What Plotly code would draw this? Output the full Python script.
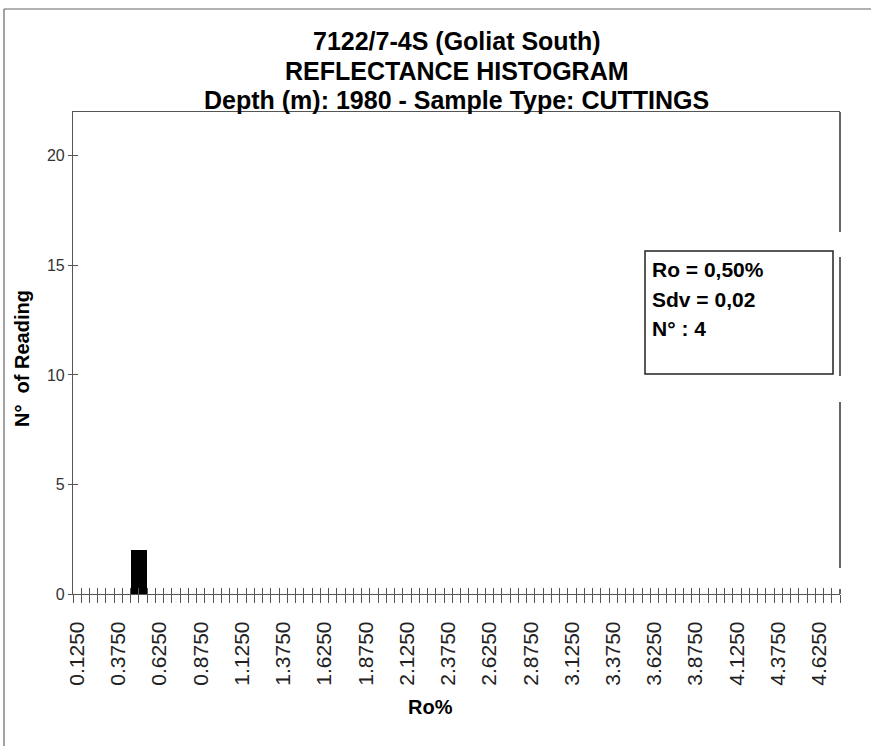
import plotly.graph_objects as go

# ---- data ----
bin_start = 0.125
bin_step = 0.05
n_bins = 93
ro_bins = [round(bin_start + bin_step * i, 4) for i in range(n_bins)]
counts = [
    0, 0, 0, 0, 0, 0, 0, 2, 2, 0,
    0, 0, 0, 0, 0, 0, 0, 0, 0, 0,
    0, 0, 0, 0, 0, 0, 0, 0, 0, 0,
    0, 0, 0, 0, 0, 0, 0, 0, 0, 0,
    0, 0, 0, 0, 0, 0, 0, 0, 0, 0,
    0, 0, 0, 0, 0, 0, 0, 0, 0, 0,
    0, 0, 0, 0, 0, 0, 0, 0, 0, 0,
    0, 0, 0, 0, 0, 0, 0, 0, 0, 0,
    0, 0, 0, 0, 0, 0, 0, 0, 0, 0,
    0, 0, 0,
]
tick_labels = ["0.1250", "0.3750", "0.6250", "0.8750", "1.1250", "1.3750",
               "1.6250", "1.8750", "2.1250", "2.3750", "2.6250", "2.8750",
               "3.1250", "3.3750", "3.6250", "3.8750", "4.1250", "4.3750",
               "4.6250"]
tick_values = [float(t) for t in tick_labels]
y_ticks = [0, 5, 10, 15, 20]
title_lines = ["7122/7-4S (Goliat South)", "REFLECTANCE HISTOGRAM",
               "Depth (m): 1980 - Sample Type: CUTTINGS"]
stats_lines = ["Ro = 0,50%", "Sdv = 0,02", "N° : 4"]

x_lo = bin_start - bin_step / 2
x_hi = x_lo + bin_step * n_bins

W, H = 871, 746
L, R, T, B = 73, 31, 112, 152
pw, ph = W - L - R, H - T - B

def px(x):
    return (x - L) / pw

def py(y):
    return (H - B - y) / ph

AX = "#555555"
FONT = "Liberation Sans, Arial, sans-serif"

fig = go.Figure()
fig.add_trace(go.Bar(x=ro_bins, y=counts, width=bin_step,
                     marker=dict(color="black", line=dict(width=0)),
                     showlegend=False, hoverinfo="x+y"))

fig.update_layout(
    width=W, height=H,
    margin=dict(l=L, r=R, t=T, b=B, pad=0),
    plot_bgcolor="white", paper_bgcolor="white",
    bargap=0,
    xaxis=dict(range=[x_lo, x_hi], tickmode="array", tickvals=tick_values,
               ticktext=tick_labels, tickangle=-90, ticks="outside",
               ticklen=18, tickcolor="rgba(0,0,0,0)",
               tickfont=dict(family=FONT, size=21, color="#222222"),
               showgrid=False, zeroline=False, showline=True,
               linecolor=AX, linewidth=1.2, mirror=True),
    xaxis2=dict(range=[x_lo, x_hi], overlaying="x", anchor="y", side="bottom",
                tickmode="linear", tick0=x_lo, dtick=bin_step,
                ticks="outside", ticklen=8, tickwidth=1.2, tickcolor=AX,
                showticklabels=False, showgrid=False, zeroline=False,
                showline=False),
    xaxis3=dict(range=[x_lo, x_hi], overlaying="x", anchor="y", side="bottom",
                tickmode="linear", tick0=x_lo, dtick=bin_step,
                ticks="inside", ticklen=6, tickwidth=1.2, tickcolor=AX,
                showticklabels=False, showgrid=False, zeroline=False,
                showline=False),
    yaxis=dict(range=[0, 22], tickmode="array", tickvals=y_ticks,
               ticks="outside", ticklen=4, tickwidth=1, tickcolor=AX,
               tickfont=dict(family=FONT, size=16, color="#333333"),
               showgrid=False, zeroline=False, showline=True,
               linecolor=AX, linewidth=1.2),
    yaxis2=dict(range=[0, 22], overlaying="y", anchor="x", side="left",
                tickmode="array", tickvals=y_ticks, ticks="inside", ticklen=5,
                tickwidth=1, tickcolor=AX, showticklabels=False,
                showgrid=False, zeroline=False, showline=False),
)
# invisible helper traces so the overlay tick axes render
fig.add_trace(go.Scatter(x=[x_lo], y=[0], xaxis="x2", yaxis="y", mode="markers",
                         marker=dict(opacity=0), showlegend=False, hoverinfo="skip"))
fig.add_trace(go.Scatter(x=[x_lo], y=[0], xaxis="x3", yaxis="y2", mode="markers",
                         marker=dict(opacity=0), showlegend=False, hoverinfo="skip"))

shapes = []
# outer chart frame
shapes.append(dict(type="line", xref="paper", yref="paper", x0=px(4), x1=px(4),
                   y0=py(H + 5), y1=py(9), line=dict(color="#666666", width=1.2)))
shapes.append(dict(type="line", xref="paper", yref="paper", x0=px(4), x1=px(W + 5),
                   y0=py(9), y1=py(9), line=dict(color="#666666", width=1.2)))
# right border of plot area (segmented as in reference)
for a, b in [(112, 232), (257, 376), (402, 568), (589, 594)]:
    shapes.append(dict(type="line", xref="paper", yref="paper", x0=1, x1=1,
                       y0=py(a), y1=py(b), line=dict(color="#333333", width=1.5)))
# stats box
shapes.append(dict(type="rect", xref="paper", yref="paper", x0=px(645), x1=px(833),
                   y0=py(374), y1=py(251), line=dict(color="#222222", width=1.5),
                   fillcolor="white"))
fig.update_layout(shapes=shapes)

ann = []
for txt, yc in zip(title_lines, [41, 71, 100]):
    ann.append(dict(text=f"<b>{txt}</b>", xref="paper", yref="paper", x=0.5, y=py(yc),
                    xanchor="center", yanchor="middle", showarrow=False,
                    font=dict(family=FONT, size=25, color="black")))
for txt, yc in zip(stats_lines, [269, 299, 328]):
    ann.append(dict(text=f"<b>{txt}</b>", xref="paper", yref="paper", x=px(650), y=py(yc),
                    xanchor="left", yanchor="middle", showarrow=False,
                    font=dict(family=FONT, size=21, color="black")))
ann.append(dict(text="<b>N°  of Reading</b>", xref="paper", yref="paper", x=px(22), y=py(359),
                xanchor="center", yanchor="middle", textangle=-90, showarrow=False,
                font=dict(family=FONT, size=20, color="black")))
ann.append(dict(text="<b>Ro%</b>", xref="paper", yref="paper", x=px(430), y=py(707),
                xanchor="center", yanchor="middle", showarrow=False,
                font=dict(family=FONT, size=20, color="black")))
fig.update_layout(annotations=ann)

fig.write_html("out.html")
